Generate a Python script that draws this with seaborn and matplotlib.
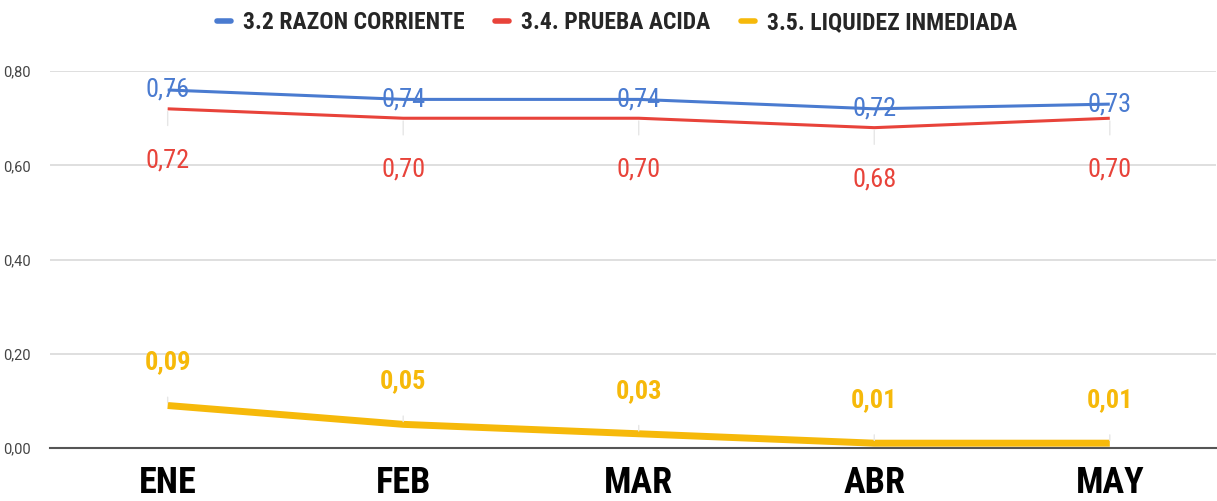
import pandas as pd
import matplotlib.pyplot as plt
import seaborn as sns

meses = ['ENE', 'FEB', 'MAR', 'ABR', 'MAY']
razon_corriente = [0.76, 0.74, 0.74, 0.72, 0.73]
prueba_acida = [0.72, 0.70, 0.70, 0.68, 0.70]
liquidez_inmediata = [0.09, 0.05, 0.03, 0.01, 0.01]

series = {
    '3.2 RAZON CORRIENTE': razon_corriente,
    '3.4. PRUEBA ACIDA': prueba_acida,
    '3.5. LIQUIDEZ INMEDIADA': liquidez_inmediata,
}
colores = ['#4a7bd0', '#e8433a', '#f6b90a']

df = pd.DataFrame([(m, k, v) for k, vals in series.items() for m, v in zip(meses, vals)],
                  columns=['mes', 'indicador', 'valor'])
df['x'] = df['mes'].map({m: i for i, m in enumerate(meses)})

sns.set_theme(style='white')
plt.rcParams['font.family'] = ['Roboto', 'DejaVu Sans']
narrow = ['Roboto Condensed', 'DejaVu Sans Condensed', 'Liberation Sans Narrow', 'Roboto']

fig = plt.figure(figsize=(12.17, 5.01), dpi=100)
ax = fig.add_axes([0.041, 0.106, 0.958, 0.752])

sns.lineplot(data=df, x='x', y='valor', hue='indicador', palette=colores,
             ax=ax, legend=False, sort=False)
for line, lw in zip(ax.lines, [2.2, 2.2, 5]):
    line.set_linewidth(lw)
    line.set_solid_capstyle('butt')

# etiquetas de datos
fmt = lambda v: f'{v:.2f}'.replace('.', ',')
for i, m in enumerate(meses):
    ax.annotate(fmt(razon_corriente[i]), (i, razon_corriente[i]),
                ha='center', va='center', fontsize=19, color=colores[0], family=narrow, zorder=5)
    ax.annotate(fmt(prueba_acida[i]), (i, prueba_acida[i]),
                xytext=(0, -37), textcoords='offset points', ha='center', va='center',
                fontsize=19, color=colores[1], family=narrow,
                arrowprops=dict(arrowstyle='-', color='#e6e6e6', lw=1, shrinkA=14, shrinkB=2))
    ax.annotate(fmt(liquidez_inmediata[i]), (i, liquidez_inmediata[i]),
                xytext=(0, 31), textcoords='offset points', ha='center', va='center',
                fontsize=19, color=colores[2], fontweight='bold', family=narrow,
                arrowprops=dict(arrowstyle='-', color='#e6e6e6', lw=1, shrinkA=14, shrinkB=2))

ax.set_xlim(-0.5, 4.45)
ax.set_ylim(0, 0.8)
ax.set_yticks([0, 0.2, 0.4, 0.6, 0.8])
ax.set_yticklabels([fmt(v) for v in [0, 0.2, 0.4, 0.6, 0.8]],
                   fontsize=10.5, color='#444444')
ax.set_xticks(range(len(meses)))
ax.set_xticklabels(meses, fontsize=26, fontweight='black', color='black', family=narrow)
ax.tick_params(axis='x', length=0, pad=12)
ax.tick_params(axis='y', length=0, pad=14)
ax.set_xlabel('')
ax.set_ylabel('')
ax.grid(axis='y', color='#d9d9d9', lw=1.2)
ax.set_axisbelow(True)
for s in ['top', 'right', 'left']:
    ax.spines[s].set_visible(False)
ax.spines['bottom'].set_color('#555555')
ax.spines['bottom'].set_linewidth(1.5)

handles = [plt.Line2D([], [], color=c, lw=4) for c in colores]
fig.legend(handles, list(series.keys()), loc='center', bbox_to_anchor=(0.507, 0.955),
           ncol=3, frameon=False, handlelength=0.6, handletextpad=0.5, columnspacing=1.3,
           prop=dict(family=narrow, weight='bold', size=17))

fig.savefig('out.png', dpi=100)
